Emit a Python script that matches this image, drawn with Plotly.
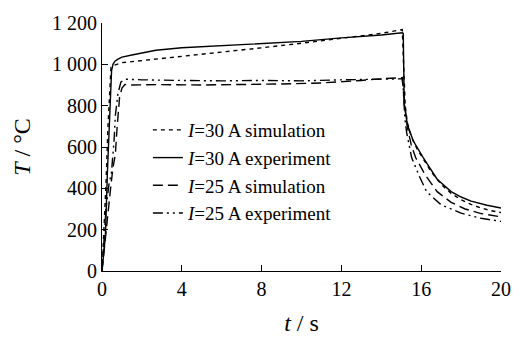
import plotly.graph_objects as go

# ---- data ----
sim30_t = [0, 0.1, 0.2, 0.3, 0.4, 0.45, 0.6, 1.0, 2, 4, 6, 8, 10, 12, 14, 15.05,
           15.12, 15.2, 15.3, 15.5, 15.8, 16.1, 16.5, 17, 17.5, 18, 18.5, 19, 19.5, 20]
sim30_T = [0, 180, 420, 700, 930, 985, 995, 1008, 1018, 1038, 1060, 1080, 1102, 1125, 1150, 1168,
           950, 800, 720, 650, 590, 545, 480, 420, 375, 345, 322, 305, 292, 283]

exp30_t = [0, 0.1, 0.17, 0.27, 0.35, 0.42, 0.48, 0.55, 0.65, 0.8, 1.0, 1.5, 2, 2.7, 4, 6, 8, 10,
           12, 13, 14, 15.05, 15.1, 15.15, 15.3, 15.6, 16.1, 16.8, 17.5, 18, 18.5, 19.3, 20]
exp30_T = [0, 90, 170, 474, 700, 880, 970, 1000, 1015, 1025, 1035, 1045, 1055, 1068, 1080, 1090, 1100, 1111,
           1128, 1135, 1142, 1153, 1150, 810, 710, 630, 549, 444, 384, 358, 338, 318, 305]

sim25_t = [0, 0.15, 0.27, 0.43, 0.55, 0.67, 0.75, 0.88, 1.0, 1.15, 1.5, 3, 5, 7, 9, 11, 12, 13, 14, 15.05,
           15.15, 15.3, 15.5, 15.72, 16.2, 16.8, 17.5, 18.2, 19, 20]
sim25_T = [0, 150, 240, 400, 500, 565, 685, 840, 885, 902, 900, 902, 900, 902, 905, 910, 915, 922, 930, 936,
           820, 700, 610, 549, 465, 384, 332, 300, 278, 262]

exp25_t = [0, 0.1, 0.2, 0.35, 0.47, 0.6, 0.67, 0.8, 0.95, 1.2, 2, 4, 6, 8, 10, 12, 14, 15.05,
           15.1, 15.18, 15.27, 15.52, 15.9, 16.27, 17, 18, 19, 20]
exp25_T = [0, 150, 300, 420, 474, 625, 753, 860, 915, 928, 925, 922, 920, 922, 920, 925, 930, 930,
           880, 740, 670, 549, 460, 384, 320, 280, 255, 240]

names = ["<i>I</i>=30 A simulation", "<i>I</i>=30 A experiment",
         "<i>I</i>=25 A simulation", "<i>I</i>=25 A experiment"]

x_ticks = [0, 4, 8, 12, 16, 20]
y_ticks = [0, 200, 400, 600, 800, 1000, 1200]
y_ticktext = ["0", "200", "400", "600", "800", "1 000", "1 200"]

FONT = "Liberation Serif, Times New Roman, serif"

series = [
    (sim30_t, sim30_T, "4px,4px"),
    (exp30_t, exp30_T, "solid"),
    (sim25_t, sim25_T, "10px,5px"),
    (exp25_t, exp25_T, "10px,4px,2px,4px,2px,4px"),
]

fig = go.Figure()
for i, (t, T, dash) in enumerate(series):
    fig.add_trace(go.Scatter(
        x=t, y=T, mode="lines", name=names[i],
        line=dict(color="black", width=1.4, dash=dash),
    ))

fig.update_layout(
    width=526, height=344,
    margin=dict(l=102, r=25, t=13, b=66),
    paper_bgcolor="white", plot_bgcolor="white",
    font=dict(family=FONT, size=20, color="black"),
    showlegend=True,
    legend=dict(x=0.115, y=0.645, xanchor="left", yanchor="top",
                bgcolor="rgba(0,0,0,0)", borderwidth=0,
                font=dict(family=FONT, size=19, color="black"),
                itemwidth=30, tracegroupgap=0),
    xaxis=dict(range=[0, 20], tickvals=x_ticks, ticks="inside", ticklen=6,
               tickwidth=1.2, tickcolor="black", showline=True, linecolor="black",
               linewidth=1.2, showgrid=False, zeroline=False, mirror=False,
               title=dict(text="<i>t</i> / s", standoff=15),
               tickfont=dict(family=FONT, size=20)),
    yaxis=dict(range=[0, 1200], tickvals=y_ticks, ticktext=y_ticktext, ticks="inside",
               ticklen=6, tickwidth=1.2, tickcolor="black", showline=True, linecolor="black",
               linewidth=1.2, showgrid=False, zeroline=False, mirror=False,
               title=dict(text="<i>T</i> / °C", standoff=14),
               tickfont=dict(family=FONT, size=20)),
)

fig.write_html("out.html")
